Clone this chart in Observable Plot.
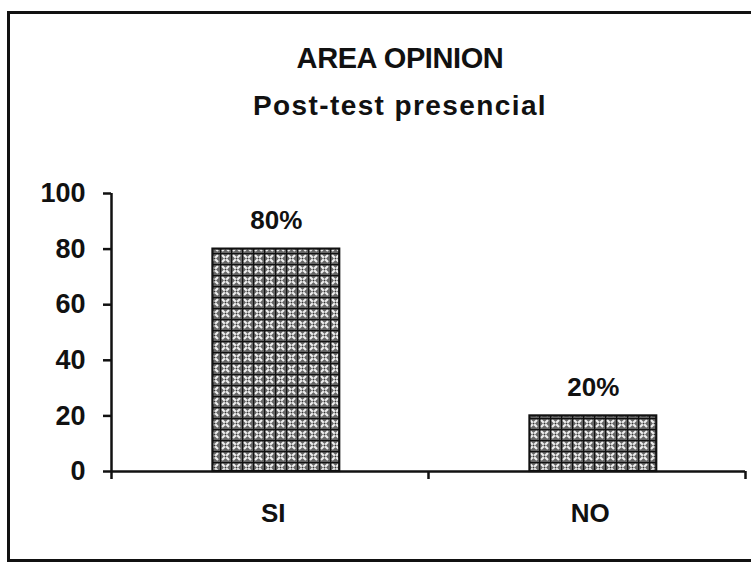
<!DOCTYPE html>
<html>
<head>
<meta charset="utf-8">
<script src="https://cdn.jsdelivr.net/npm/d3@7"></script>
<script src="https://cdn.jsdelivr.net/npm/@observablehq/plot@0.6"></script>
<style>
  html, body { margin: 0; padding: 0; background: #fff; overflow: hidden; }
  #wrap { position: relative; width: 751px; height: 565px; overflow: hidden; font-family: "Liberation Sans", Arial, sans-serif; }
  #frame { position: absolute; left: 7px; top: 11px; width: 800px; height: 551px; border: 3px solid #111; border-right: none; box-sizing: border-box; }
  #title { position: absolute; left: 0; width: 800px; top: 41px; text-align: center; font-weight: bold; font-size: 29px; letter-spacing: -0.4px; color: #111; line-height: 34px; }
  #subtitle { position: absolute; left: 0; width: 800px; top: 89px; text-align: center; font-weight: bold; font-size: 28px; letter-spacing: 1.4px; color: #111; line-height: 34px; }
  #chart { position: absolute; left: 0; top: 0; }
</style>
</head>
<body>
<div id="wrap">
  <div id="frame"></div>
  <div id="chart"></div>
  <div id="title">AREA OPINION</div>
  <div id="subtitle">Post-test presencial</div>
</div>
<script>
const categories = ["SI", "NO"];
const values = [80, 20];
const yTicks = [0, 20, 40, 60, 80, 100];

const data = categories.map((c, i) => ({ i, category: c, value: values[i] }));

const plot = Plot.plot({
  width: 751,
  height: 565,
  marginLeft: 111,
  marginRight: 6,
  marginTop: 193,
  marginBottom: 94,
  style: { fontFamily: "Liberation Sans, Arial, sans-serif", color: "#111", background: "transparent" },
  x: { domain: [0, categories.length], axis: null },
  y: { domain: [0, 100], axis: null },
  marks: [
    Plot.rectY(data, {
      x1: d => d.i + 0.32,
      x2: d => d.i + 0.72,
      y: "value",
      fill: "url(#hatch)",
      stroke: "#111",
      strokeWidth: 2.2
    }),
    Plot.ruleX([0], { stroke: "#111", strokeWidth: 2.5 }),
    Plot.ruleY([0], { stroke: "#111", strokeWidth: 2.5, x1: 0, x2: categories.length }),
    Plot.axisY({
      ticks: yTicks,
      tickSize: 8,
      tickPadding: 18,
      fontSize: 27,
      fontWeight: "bold",
      stroke: "#111",
      strokeWidth: 2.5,
      label: null
    }),
    Plot.axisX({
      ticks: d3.range(categories.length + 1),
      tickFormat: () => "",
      tickSize: 8,
      strokeWidth: 2.5,
      stroke: "#111",
      label: null
    }),
    Plot.axisX({
      ticks: categories.map((c, i) => i + 0.51),
      tickFormat: d => categories[Math.floor(d)],
      tickSize: 0,
      tickPadding: 32,
      fontSize: 26,
      fontWeight: "bold",
      letterSpacing: "-2px",
      label: null
    }),
    Plot.text(data, {
      x: d => d.i + 0.52,
      y: "value",
      text: d => d.value + "%",
      dy: -28,
      fontSize: 26,
      fontWeight: "bold",
      fill: "#111"
    })
  ]
});

const svg = d3.select(plot);
const defs = svg.insert("defs", ":first-child");
const pat = defs.append("pattern")
  .attr("id", "hatch")
  .attr("patternUnits", "userSpaceOnUse")
  .attr("width", 11)
  .attr("height", 11);
pat.append("rect").attr("width", 11).attr("height", 11).attr("fill", "#666");
pat.append("path").attr("d", "M2,2 L9,9 M9,2 L2,9").attr("stroke", "#eee").attr("stroke-width", 2.2);
pat.append("circle").attr("cx", 5.5).attr("cy", 5.5).attr("r", 1).attr("fill", "#333");
pat.append("path").attr("d", "M0,0 H11 M0,0 V11").attr("stroke", "#111").attr("stroke-width", 2.4);

document.getElementById("chart").appendChild(plot);
</script>
</body>
</html>
